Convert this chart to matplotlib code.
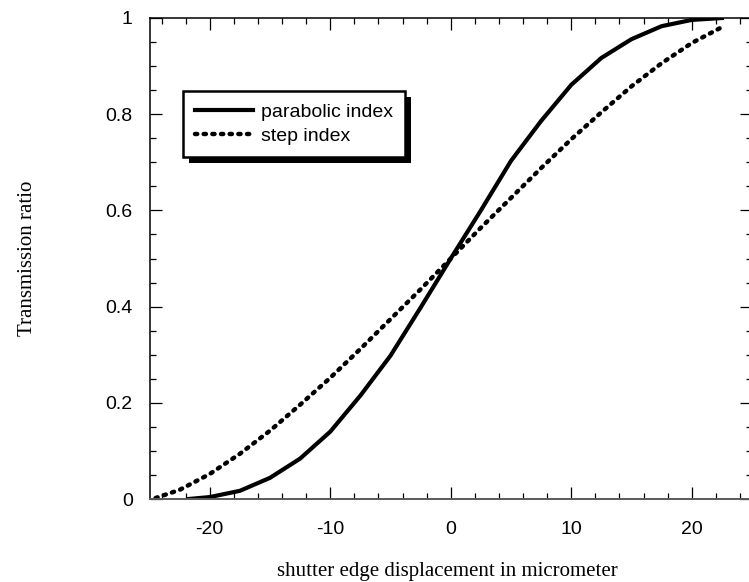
import matplotlib
matplotlib.use("Agg")
from matplotlib import pyplot as plt
from matplotlib.patches import Rectangle
from matplotlib.transforms import IdentityTransform

# shutter edge displacement (micrometer) and transmission ratio
parabolic_x = [-21.75, -20, -17.5, -15, -12.5, -10, -7.5, -5, -2.5, 0,
               2.5, 5, 7.5, 10, 12.5, 15, 17.5, 20, 22.5]
parabolic_y = [0.0, 0.004, 0.017, 0.044, 0.084, 0.14, 0.215, 0.298, 0.398, 0.5,
               0.6, 0.703, 0.786, 0.861, 0.917, 0.956, 0.983, 0.996, 1.0]

step_x = [-24.5, -22.5, -20, -17.5, -15, -12.5, -10, -7.5, -5, -2.5, 0,
          2.5, 5, 7.5, 10, 12.5, 15, 17.5, 20, 22.5]
step_y = [0.002, 0.019, 0.052, 0.094, 0.142, 0.196, 0.252, 0.312, 0.374, 0.436, 0.5,
          0.564, 0.626, 0.688, 0.748, 0.804, 0.858, 0.906, 0.948, 0.981]

xticks = [-20, -10, 0, 10, 20]
yticks = [0, 0.2, 0.4, 0.6, 0.8, 1.0]
ytick_labels = ['0', '0.2', '0.4', '0.6', '0.8', '1']

plt.rcParams['font.family'] = ['Liberation Sans', 'DejaVu Sans']
plt.rcParams['axes.unicode_minus'] = False

W, H = 749, 582
fig = plt.figure(figsize=(W / 100, H / 100), dpi=100)
ax = fig.add_axes([149.5 / W, 1 - 499 / H, (752 - 149.5) / W, (499 - 18) / H])

ax.plot(parabolic_x, parabolic_y, color='black', lw=3.0, label='parabolic index')
ax.plot(step_x, step_y, color='black', lw=3.2, linestyle=(0, (0.5, 1.45)),
        dash_capstyle='round', label='step index')

ax.set_xlim(-25, 25)
ax.set_ylim(0, 1)
ax.set_xticks(xticks)
ax.set_xticks(range(-24, 25, 2), minor=True)
ax.set_yticks(yticks)
ax.set_yticklabels(ytick_labels)
ax.set_yticks([i * 0.05 for i in range(21)], minor=True)

ax.tick_params(which='both', direction='in', top=True, right=True, width=0.9,
               labelsize=14)
ax.tick_params(which='major', length=8.5)
ax.tick_params(which='minor', length=4.5)
ax.tick_params(axis='x', pad=16)
ax.tick_params(axis='y', pad=12)

for side in ['left', 'top', 'right']:
    ax.spines[side].set_linewidth(1.1)
ax.spines['bottom'].set_color('#5a5a5a')
ax.spines['bottom'].set_linewidth(1.4)

ax.set_xlabel('shutter edge displacement in micrometer', family='Liberation Serif',
              fontsize=15, va='top')
ax.xaxis.set_label_coords(0.5 - 3 / 602.5, -(562 - 499) / 481)
ax.set_ylabel('Transmission ratio', family='Liberation Serif', fontsize=15)
ax.yaxis.set_label_coords(-(149.5 - 37.5) / 602.5, 0.5)

leg = ax.legend(loc='upper left', bbox_to_anchor=(183 / W, 1 - 91 / H),
                bbox_transform=fig.transFigure, borderaxespad=0, fontsize=14,
                handlelength=3.0, handletextpad=0.4, borderpad=0.62,
                labelspacing=0.35, fancybox=False, framealpha=1,
                edgecolor='black')
leg.get_frame().set_linewidth(1.8)

# drop shadow under the legend box
fig.canvas.draw()
bb = leg.get_window_extent()
shadow = Rectangle((bb.x0 + 6, bb.y0 - 6), bb.width, bb.height,
                   transform=IdentityTransform(), facecolor='black',
                   edgecolor='none', zorder=4.9, clip_on=False)
ax.add_artist(shadow)

fig.savefig('out.png', dpi=100)
